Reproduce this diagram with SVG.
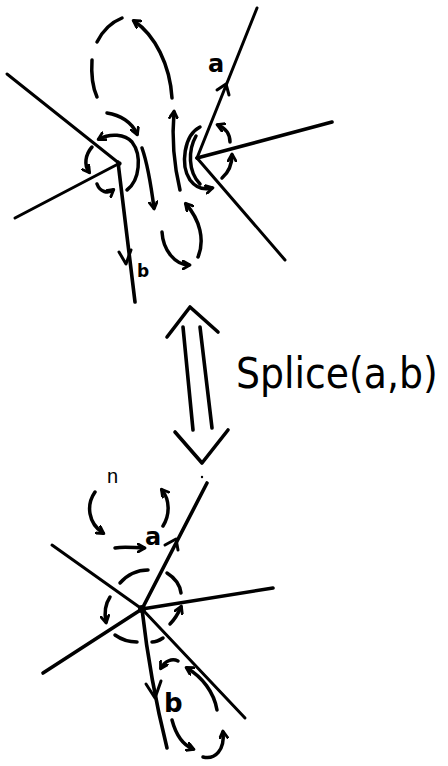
<svg xmlns="http://www.w3.org/2000/svg" width="448" height="766" viewBox="0 0 448 766">
<defs>
<marker id="ah" viewBox="0 0 10 10" refX="7" refY="5" markerWidth="10" markerHeight="10" markerUnits="userSpaceOnUse" orient="auto">
<path d="M1,1 L8,5 L1,9" fill="none" stroke="#000" stroke-width="2.8" stroke-linecap="round" stroke-linejoin="round"/>
</marker>
</defs>
<style>
.ln{fill:none;stroke:#000;stroke-width:3;stroke-linecap:round;stroke-linejoin:round}
.th{stroke-width:3.6}
.ar{fill:none;stroke:#000;stroke-width:3.5;stroke-linecap:round;marker-end:url(#ah)}
.ds{fill:none;stroke:#000;stroke-width:3.5;stroke-linecap:round}
.hw{font-family:"DejaVu Sans",sans-serif;fill:#000;font-weight:bold}
</style>
<rect width="448" height="766" fill="#fff"/>
<g id="top">
<g id="edges-top">
<path class="ln" d="M7,74 L120,164"/>
<path class="ln" d="M15,218 L120,163"/>
<path class="ln th" d="M118,162 L135,302"/>
<path class="ln" d="M119,252 L126,264 L131,250"/>
<path class="ln" d="M197,158 L257,8"/>
<path class="ln" d="M217,90 L226,84 L229,95"/>
<path class="ln th" d="M197,158 L332,122"/>
<path class="ln" d="M197,158 L285,260"/>
</g>
<g id="arcs-top">
<path class="ar" d="M172,98 C170,65 155,35 134,21"/>
<path class="ds" d="M122,18 C112,22 103,30 97,42"/>
<path class="ds" d="M92,60 C91,75 93,88 97,97"/>
<path class="ar" d="M107,113 C120,115 132,122 137,134"/>
<path class="ar" d="M127,190 C140,180 142,155 132,142 C125,134 110,133 99,139"/>
<path class="ar" d="M92,147 C85,155 84,165 89,172"/>
<path class="ar" d="M97,184 C100,192 108,194 113,190"/>
<path class="ar" d="M142,148 C148,165 151,185 154,208"/>
<path class="ar" d="M180,190 C174,165 172,135 174,112"/>
<path class="ar" d="M200,127 C184,135 180,165 190,180 C196,188 204,190 212,188"/>
<path class="ds" d="M196,136 C188,150 188,172 200,184"/>
<path class="ar" d="M230,142 C230,133 225,128 218,125"/>
<path class="ar" d="M222,178 C229,172 232,165 232,155"/>
<path class="ar" d="M198,257 C205,240 200,220 186,204"/>
<path class="ar" d="M162,232 C163,250 175,265 189,265"/>
</g>
<text class="hw" x="208" y="72" font-size="24">a</text>
<text class="hw" x="137" y="277" font-size="17">b</text>
</g>
<g id="splice">
<path class="ln th" d="M183,327 L193,430"/>
<path class="ln th" d="M200,327 L212,428"/>
<path class="ln th" d="M167,337 L190,307 L218,332"/>
<path class="ln th" d="M175,432 L202,463 L228,430"/>
<circle cx="202" cy="477" r="1.2" fill="#000"/>
<text x="236" y="388" font-family="DejaVu Sans Condensed, DejaVu Sans, sans-serif" font-size="42">Splice(a,b)</text>
</g>
<g id="bottom">
<g id="edges-bottom">
<path class="ln th" d="M142,609 L207,483"/>
<path class="ln" d="M165,545 L176,539 L178,550"/>
<path class="ln" d="M52,545 L142,609"/>
<path class="ln th" d="M142,609 L273,588"/>
<path class="ln th" d="M43,673 L142,609"/>
<path class="ln" d="M142,609 L245,718"/>
<path class="ln th" d="M142,609 Q150,680 167,748"/>
<path class="ln" d="M146,684 L155,698 L161,681"/>
<circle cx="142" cy="609" r="4" fill="#000"/>
</g>
<g id="arcs-bottom">
<path class="ar" d="M95,492 C86,505 88,523 103,533"/>
<path class="ar" d="M115,548 C125,546 135,548 144,548"/>
<path class="ar" d="M163,526 C170,515 170,500 162,490"/>
<path class="ds" d="M120,583 C128,574 138,570 148,570"/>
<path class="ds" d="M167,573 C175,578 180,585 181,593"/>
<path class="ar" d="M110,597 C106,603 104,612 106,622"/>
<path class="ds" d="M115,635 C122,640 130,642 137,642"/>
<path class="ds" d="M152,642 C156,642 160,640 163,638"/>
<path class="ar" d="M170,624 C175,619 178,614 181,607"/>
<path class="ar" d="M178,661 C172,658 165,661 161,668"/>
<path class="ar" d="M217,710 C214,692 202,677 187,668"/>
<path class="ar" d="M172,720 C176,735 183,745 193,749"/>
<path class="ar" d="M203,757 C215,760 225,750 223,732"/>
</g>
<text x="107" y="483" font-family="Liberation Sans, sans-serif" font-size="20">n</text>
<text class="hw" x="145" y="545" font-size="24">a</text>
<text class="hw" x="164" y="712" font-size="26">b</text>
</g>
</svg>
